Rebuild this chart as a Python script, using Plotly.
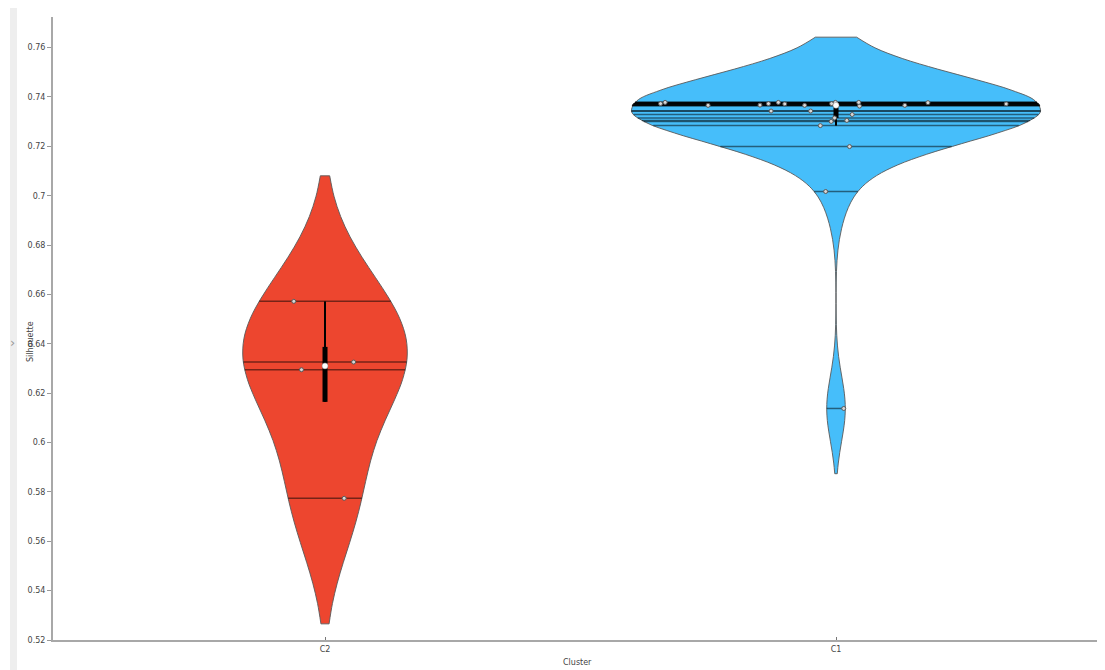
import math
import numpy as np
import plotly.graph_objects as go

# ---------------- data ----------------
categories = ["C2", "C1"]
c2_silhouette = [0.6572, 0.6326, 0.6295, 0.5774]
c1_silhouette = [0.7366, 0.7366, 0.7363, 0.7378, 0.7378, 0.7377, 0.7372, 0.7373,
                 0.7373, 0.7373, 0.7329, 0.7315, 0.7372, 0.7378, 0.7378, 0.7367,
                 0.7305, 0.7366, 0.7343, 0.7343, 0.7301, 0.7284, 0.7199, 0.7017,
                 0.6138]
y_tick_values = [0.52, 0.54, 0.56, 0.58, 0.60, 0.62, 0.64, 0.66, 0.68, 0.70, 0.72, 0.74, 0.76]
y_tick_labels = ["0.52", "0.54", "0.56", "0.58", "0.6", "0.62", "0.64", "0.66",
                 "0.68", "0.7", "0.72", "0.74", "0.76"]
x_title = "Cluster"
y_title = "Silhouette"

# ---------------- styling ----------------
colors = {"C2": "#ED462F", "C1": "#46BEFA"}
violin_widths = {"C2": 0.321, "C1": 0.80}
jitters = {"C2": 0.45, "C1": 1.0}
positions = {"C2": 0, "C1": 1}
values_by_cat = {"C2": c2_silhouette, "C1": c1_silhouette}

# page body has an 8px margin: figure coordinates = screen - 8
OFF = 8
W, H = 1105 - OFF, 670 - OFF
ML, MR, MT, MB = 53 - OFF, 0, 17 - OFF, 670 - 640
X_RANGE = [-0.5323, 1.5264]
Y_RANGE = [0.52, 0.7724]
FONT = "DejaVu Sans"
AXIS_GREY = "#a8a8a8"


def bandwidth(v):
    v = np.asarray(v, float)
    return float(np.std(v, ddof=1) * len(v) ** (-0.2))


def kde(v, t, bw):
    v = np.asarray(v, float)
    t = np.atleast_1d(np.asarray(t, float))
    z = (t[:, None] - v[None, :]) / bw
    return np.exp(-0.5 * z * z).sum(axis=1) / (len(v) * bw * math.sqrt(2 * math.pi))


def max_kde(v, bw):
    lo, hi = min(v) - 2 * bw, max(v) + 2 * bw
    dist = hi - lo
    n = math.ceil(dist / (bw / 3))
    step = dist / n
    t = lo + step * np.arange(n + 1)
    return float(kde(v, t, bw).max())


fig = go.Figure()

# violins (fill + outline)
for cat in categories:
    vals = values_by_cat[cat]
    bw = bandwidth(vals)
    fig.add_trace(go.Violin(
        x=[positions[cat]] * len(vals), y=vals, name=cat, scalegroup=cat,
        scalemode="width", width=violin_widths[cat], bandwidth=bw,
        spanmode="soft", points=False, box_visible=False, meanline_visible=False,
        fillcolor=colors[cat], opacity=1,
        line=dict(color="rgba(90,90,90,0.9)", width=1),
        hoverinfo="skip", showlegend=False,
    ))

# rug lines spanning the violin at each value
for cat in categories:
    vals = values_by_cat[cat]
    bw = bandwidth(vals)
    mk = max_kde(vals, bw)
    half = violin_widths[cat] / 2 * kde(vals, vals, bw) / mk
    xs, ys = [], []
    p = positions[cat]
    for v, h in zip(vals, half):
        xs += [p - h, p + h, None]
        ys += [v, v, None]
    fig.add_trace(go.Scatter(x=xs, y=ys, mode="lines",
                             line=dict(color="rgba(0,0,0,0.5)", width=1.5),
                             hoverinfo="skip", showlegend=False))

# box: whiskers + IQR bar
medians = []
for cat in categories:
    vals = np.asarray(values_by_cat[cat], float)
    q1, med, q3 = np.percentile(vals, [25, 50, 75])
    iqr = q3 - q1
    lw = min(q1, vals[vals >= q1 - 1.5 * iqr].min())
    uw = max(q3, vals[vals <= q3 + 1.5 * iqr].max())
    p = positions[cat]
    fig.add_trace(go.Scatter(x=[p, p], y=[lw, uw], mode="lines",
                             line=dict(color="black", width=2),
                             hoverinfo="skip", showlegend=False))
    fig.add_trace(go.Scatter(x=[p, p], y=[q1, q3], mode="lines",
                             line=dict(color="black", width=5),
                             hoverinfo="skip", showlegend=False))
    medians.append((p, med))

# points (overlay subplot so they sit above the rug lines)
for cat in categories:
    vals = values_by_cat[cat]
    bw = bandwidth(vals)
    fig.add_trace(go.Violin(
        x=[positions[cat]] * len(vals), y=vals, name=cat + " points",
        scalegroup=cat + "p", scalemode="width", width=violin_widths[cat],
        bandwidth=bw, points="all", jitter=jitters[cat], pointpos=0,
        fillcolor="rgba(0,0,0,0)", line=dict(width=0, color="rgba(0,0,0,0)"),
        marker=dict(size=4, color="#d8d8d8", line=dict(color="#5a5a5a", width=1)),
        box_visible=False, meanline_visible=False,
        xaxis="x2", yaxis="y2", hoverinfo="y", showlegend=False,
    ))

fig.add_trace(go.Scatter(
    x=[m[0] for m in medians], y=[m[1] for m in medians], mode="markers",
    marker=dict(size=6, color="white", line=dict(color="#888", width=0.5)),
    xaxis="x2", yaxis="y2", hoverinfo="skip", showlegend=False))

plot_w = W - ML - MR
plot_h = H - MT - MB


def px_x(sx):
    """screen x -> paper x"""
    return (sx - OFF - ML) / plot_w


def px_y(sy):
    """screen y -> paper y"""
    return (H - MB - (sy - OFF)) / plot_h


fig.update_layout(
    width=W, height=H,
    margin=dict(l=ML, r=MR, t=MT, b=MB, pad=0),
    paper_bgcolor="white", plot_bgcolor="white",
    violinmode="overlay",
    font=dict(family=FONT, size=8, color="#444"),
    xaxis=dict(range=X_RANGE, tickvals=[positions[c] for c in categories],
               ticktext=categories, ticks="inside", ticklen=3, tickwidth=1,
               tickcolor="#777", showline=True, linecolor=AXIS_GREY, linewidth=2,
               showgrid=False, zeroline=False, tickfont=dict(size=8, color="#444"),
               fixedrange=True),
    yaxis=dict(range=Y_RANGE, tickvals=y_tick_values, ticktext=y_tick_labels,
               ticks="outside", ticklen=4, tickwidth=1, tickcolor="#999",
               showline=True, linecolor=AXIS_GREY, linewidth=2,
               showgrid=False, zeroline=False, tickfont=dict(size=8, color="#444"),
               fixedrange=True),
    xaxis2=dict(range=X_RANGE, overlaying="x", visible=False, fixedrange=True),
    yaxis2=dict(range=Y_RANGE, overlaying="y", visible=False, fixedrange=True),
    shapes=[dict(type="rect", xref="paper", yref="paper",
                 x0=px_x(10), x1=px_x(17), y0=px_y(670), y1=px_y(8),
                 fillcolor="#eeeeee", line=dict(width=0), layer="below")],
    annotations=[
        dict(text=y_title, xref="paper", yref="paper",
             x=px_x(30), y=px_y(342),
             textangle=-90, showarrow=False, xanchor="center", yanchor="middle",
             font=dict(size=8, color="#444")),
        dict(text=x_title, xref="paper", yref="paper",
             x=px_x(577), y=px_y(662),
             showarrow=False, xanchor="center", yanchor="middle",
             font=dict(size=8, color="#444")),
        dict(text="›", xref="paper", yref="paper",
             x=px_x(12), y=px_y(342),
             showarrow=False, xanchor="center", yanchor="middle",
             font=dict(size=13, color="#999")),
    ],
)

fig.write_html(
    "out.html",
    config={"displayModeBar": False},
    post_script="document.documentElement.style.overflow='hidden';"
                "document.body.style.overflow='hidden';",
)
